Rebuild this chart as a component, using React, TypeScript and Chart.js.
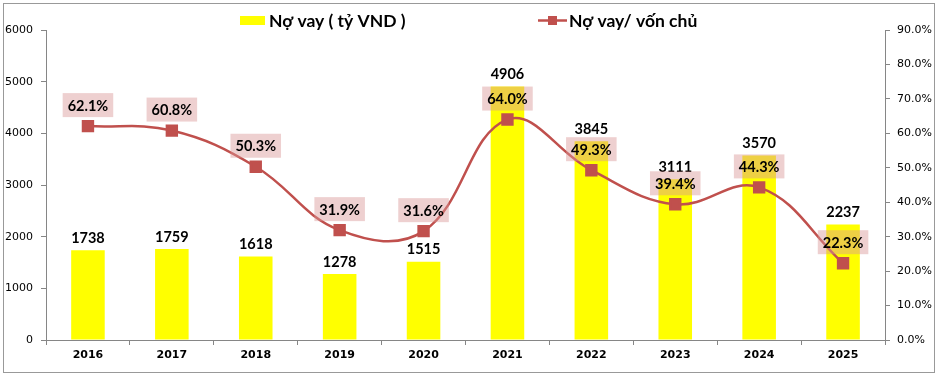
import React, { useEffect, useRef } from "react";
import { Chart, registerables } from "chart.js";

Chart.register(...registerables);

const years = ["2016", "2017", "2018", "2019", "2020", "2021", "2022", "2023", "2024", "2025"];
const debt = [1738, 1759, 1618, 1278, 1515, 4906, 3845, 3111, 3570, 2237];
const ratio = [62.1, 60.8, 50.3, 31.9, 31.6, 64.0, 49.3, 39.4, 44.3, 22.3];
const debtLabel = "Nợ vay ( tỷ VND )";
const ratioLabel = "Nợ vay/ vốn chủ";

const RED = "#C0504D";
const YELLOW = "#FFFF00";
const AXIS = "#868686";
const LABEL_FONT = "bold 14.5px Lato, sans-serif";

const decorPlugin = {
  id: "decor",
  beforeDraw(chart: any) {
    const ctx = chart.ctx;
    ctx.save();
    ctx.fillStyle = "#fff";
    ctx.fillRect(0, 0, chart.width, chart.height);
    ctx.strokeStyle = "#999";
    ctx.lineWidth = 1;
    ctx.strokeRect(3.5, 3.5, 931, 369);
    ctx.restore();
  },
  afterDraw(chart: any) {
    const ctx = chart.ctx;
    ctx.save();
    ctx.font = "bold 17.5px Lato, sans-serif";
    ctx.textBaseline = "middle";
    ctx.fillStyle = YELLOW;
    ctx.fillRect(240, 16, 25, 9);
    ctx.fillStyle = "#000";
    ctx.textAlign = "left";
    ctx.fillText(debtLabel, 269, 21);
    ctx.strokeStyle = RED;
    ctx.lineWidth = 2.5;
    ctx.beginPath();
    ctx.moveTo(538, 20.5);
    ctx.lineTo(567, 20.5);
    ctx.stroke();
    ctx.fillStyle = RED;
    ctx.fillRect(548, 16, 9, 9);
    ctx.fillStyle = "#000";
    ctx.fillText(ratioLabel, 569, 21);
    ctx.restore();
  },
  afterDatasetsDraw(chart: any) {
    const ctx = chart.ctx;
    ctx.save();
    ctx.font = LABEL_FONT;
    ctx.textAlign = "center";
    ctx.textBaseline = "middle";
    const barMeta = chart.getDatasetMeta(1);
    barMeta.data.forEach((el: any, i: number) => {
      ctx.fillStyle = "#000";
      ctx.fillText(String(debt[i]), el.x, el.y - 12);
    });
    const lineMeta = chart.getDatasetMeta(0);
    lineMeta.data.forEach((el: any, i: number) => {
      const txt = ratio[i].toFixed(1) + "%";
      const w = ctx.measureText(txt).width + 10;
      const h = 24;
      const cy = el.y - 21;
      ctx.fillStyle = "rgba(218,150,150,0.45)";
      ctx.fillRect(el.x - w / 2, cy - h / 2, w, h);
      ctx.fillStyle = "#000";
      ctx.fillText(txt, el.x, cy + 1);
    });
    ctx.restore();
  },
};

export default function App() {
  const ref = useRef<HTMLCanvasElement>(null);
  useEffect(() => {
    const chart = new Chart(ref.current!, {
      type: "bar",
      data: {
        labels: years,
        datasets: [
          {
            type: "line",
            label: ratioLabel,
            data: ratio,
            yAxisID: "y1",
            borderColor: RED,
            backgroundColor: RED,
            borderWidth: 2.5,
            pointStyle: "rect",
            pointRadius: 7,
            pointBackgroundColor: RED,
            pointBorderColor: RED,
            tension: 0.4,
            order: 0,
          } as any,
          {
            type: "bar",
            label: debtLabel,
            data: debt,
            yAxisID: "y",
            backgroundColor: YELLOW,
            barPercentage: 0.4,
            categoryPercentage: 1,
            order: 1,
          },
        ],
      },
      options: {
        responsive: false,
        animation: false,
        layout: { padding: { top: 30, left: 0, right: 0, bottom: 0 } },
        plugins: { legend: { display: false }, tooltip: { enabled: false } },
        scales: {
          x: {
            offset: true,
            grid: { display: true, offset: true, drawOnChartArea: false, drawTicks: true, tickLength: 5, color: AXIS },
            border: { display: true, color: AXIS },
            ticks: { color: "#000", font: { family: "DejaVu Sans", size: 11, weight: "bold" }, padding: 4 },
            afterFit(s: any) { s.height = 40; },
          },
          y: {
            position: "left",
            min: 0,
            max: 6000,
            ticks: {
              stepSize: 1000,
              color: "#000",
              font: { family: "DejaVu Sans", size: 11 },
              padding: 8,
              callback: (v: any) => String(v),
            },
            grid: { drawOnChartArea: false, drawTicks: true, tickLength: 5, color: AXIS },
            border: { display: true, color: AXIS },
            afterFit(s: any) { s.width = 46; },
          },
          y1: {
            position: "right",
            min: 0,
            max: 90,
            ticks: {
              stepSize: 10,
              color: "#000",
              font: { family: "DejaVu Sans", size: 11 },
              padding: 7,
              callback: (v: any) => Number(v).toFixed(1) + "%",
            },
            grid: { drawOnChartArea: false, drawTicks: true, tickLength: 5, color: AXIS },
            border: { display: true, color: AXIS },
            afterFit(s: any) { s.width = 54; },
          },
        },
      },
      plugins: [decorPlugin],
    });
    return () => chart.destroy();
  }, []);
  return (
    <div style={{ position: "fixed", left: 0, top: 0, width: 939, height: 380 }}>
      <canvas ref={ref} width={939} height={380} style={{ display: "block" }} />
    </div>
  );
}
